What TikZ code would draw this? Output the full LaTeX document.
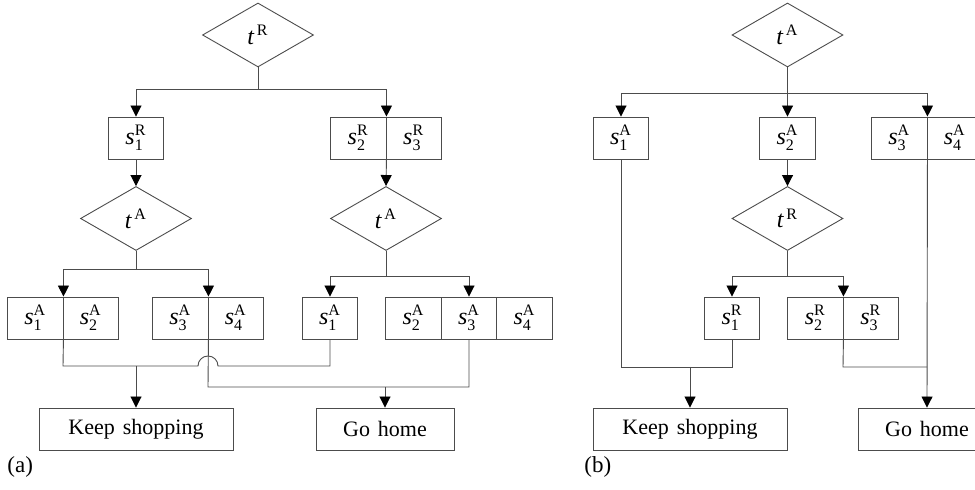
\documentclass[tikz,border=0pt]{standalone}
\usepackage{amsmath}
\usepackage{fontspec}
\setmainfont{Liberation Serif}
\usetikzlibrary{shapes.geometric,arrows.meta}
\newcommand{\symS}[2]{$\textit{s}_{\text{#1}}^{\text{#2}}$}
\newcommand{\symT}[1]{$\textit{t}^{\,\text{#1}}$}
\tikzset{
  cell/.style={rectangle,draw=black!70,line width=0.45pt,minimum width=27.75pt,minimum height=21pt,inner sep=0pt,font=\fontsize{12}{14}\selectfont},
  dia/.style={diamond,draw=black!70,line width=0.45pt,minimum width=55.5pt,minimum height=32pt,inner sep=0pt,font=\fontsize{12}{14}\selectfont},
  outbox/.style={rectangle,draw=black!70,line width=0.45pt,minimum height=21pt,inner sep=0pt,font=\fontsize{11}{13}\selectfont},
  conn/.style={draw=black!70,line width=0.45pt},
  arr/.style={conn,-{Triangle[width=5.5pt,length=5.5pt,color=black,fill=black]}},
  lbl/.style={anchor=west,inner sep=0pt,font=\fontsize{11.5}{13}\selectfont}
}
\begin{document}
\begin{tikzpicture}[x=0.5pt,y=-0.5pt]
\useasboundingbox (0,0) rectangle (975,490);
\clip (0,0) rectangle (975,490);
% ---------------- panel (a) ----------------
\node[dia] (a-tR) at (258,35) {\symT{R}};
\node[cell] (a-s1R) at (136,138) {\symS{1}{R}};
\node[cell] (a-s2R) at (358.25,138) {\symS{2}{R}};
\node[cell] (a-s3R) at (413.75,138) {\symS{3}{R}};
\node[dia] (a-tA1) at (136,218.5) {\symT{A}};
\node[dia] (a-tA2) at (386,218.5) {\symT{A}};
\node[cell] (a-s1A) at (35.25,318) {\symS{1}{A}};
\node[cell] (a-s2A) at (90.75,318) {\symS{2}{A}};
\node[cell] (a-s3A) at (180.25,318) {\symS{3}{A}};
\node[cell] (a-s4A) at (235.75,318) {\symS{4}{A}};
\node[cell] (a-s1Ab) at (330,318) {\symS{1}{A}};
\node[cell] (a-s2Ab) at (413.5,318) {\symS{2}{A}};
\node[cell] (a-s3Ab) at (469,318) {\symS{3}{A}};
\node[cell] (a-s4Ab) at (524.5,318) {\symS{4}{A}};
\node[outbox,minimum width=97pt] (a-KS) at (136,429) {Keep\hspace{4pt}shopping};
\node[outbox,minimum width=69pt] (a-GH) at (385,429) {Go\hspace{4pt}home};
\node[lbl] (a-lab) at (7,467) {(a)};
\coordinate (a-j1) at (258,89);
\coordinate (a-j2) at (136,269);
\coordinate (a-j3) at (386,276);
\coordinate (a-c1) at (63,366);
\coordinate (a-hopL) at (198,366);
\coordinate (a-c2) at (330,366);
\coordinate (a-m1) at (136,366);
\coordinate (a-c3) at (208,387);
\coordinate (a-c4) at (469,387);
\coordinate (a-m2) at (385,387);
\draw[conn] (a-tR.south) -- (a-j1);
\draw[arr] (a-j1) -| (a-s1R.north);
\draw[arr] (a-j1) -| (a-s2R.north east);
\draw[arr] (a-s1R.south) -- (a-tA1.north);
\draw[arr] (a-s2R.south east) -- (a-tA2.north);
\draw[conn] (a-tA1.south) -- (a-j2);
\draw[arr] (a-j2) -| (a-s1A.north east);
\draw[arr] (a-j2) -| (a-s3A.north east);
\draw[conn] (a-tA2.south) -- (a-j3);
\draw[arr] (a-j3) -| (a-s1Ab.north);
\draw[arr] (a-j3) -| (a-s3Ab.north);
\draw[conn] (a-s1A.south east) -- (a-c1) -- (a-hopL) arc[start angle=180,end angle=360,radius=10] -- (a-c2) -- (a-s1Ab.south);
\draw[arr] (a-m1) -- (a-KS.north);
\draw[conn] (a-s3A.south east) -- (a-c3) -- (a-c4) -- (a-s3Ab.south);
\draw[arr] (a-m2) -- (a-GH.north);
% ---------------- panel (b) ----------------
\node[dia] (b-tA) at (787.5,35) {\symT{A}};
\node[cell] (b-s1A) at (621,138) {\symS{1}{A}};
\node[cell] (b-s2A) at (787.5,138) {\symS{2}{A}};
\node[cell] (b-s3A) at (899.25,138) {\symS{3}{A}};
\node[cell] (b-s4A) at (954.75,138) {\symS{4}{A}};
\node[dia] (b-tR) at (787.5,218.5) {\symT{R}};
\node[cell] (b-s1R) at (732,318) {\symS{1}{R}};
\node[cell] (b-s2R) at (815.25,318) {\symS{2}{R}};
\node[cell] (b-s3R) at (870.75,318) {\symS{3}{R}};
\node[outbox,minimum width=97pt] (b-KS) at (690,429) {Keep\hspace{4pt}shopping};
\node[outbox,minimum width=69pt] (b-GH) at (927,429) {Go\hspace{4pt}home};
\node[lbl] (b-lab) at (584,467) {(b)};
\coordinate (b-j1) at (787.5,93);
\coordinate (b-j2) at (787.5,276);
\coordinate (b-c1) at (621,367);
\coordinate (b-c2) at (732,367);
\coordinate (b-m1) at (690,367);
\coordinate (b-c3) at (843,367);
\coordinate (b-c4) at (927,367);
\draw[conn] (b-tA.south) -- (b-j1);
\draw[arr] (b-j1) -- (b-s2A.north);
\draw[arr] (b-j1) -| (b-s1A.north);
\draw[arr] (b-j1) -| (b-s3A.north east);
\draw[arr] (b-s2A.south) -- (b-tR.north);
\draw[conn] (b-tR.south) -- (b-j2);
\draw[arr] (b-j2) -| (b-s1R.north);
\draw[arr] (b-j2) -| (b-s2R.north east);
\draw[conn] (b-s1A.south) -- (b-c1) -- (b-c2) -- (b-s1R.south);
\draw[arr] (b-m1) -- (b-KS.north);
\draw[conn] (b-s2R.south east) -- (b-c3) -- (b-c4);
\draw[arr] (b-s3A.south east) -- (b-GH.north);
\end{tikzpicture}
\end{document}
